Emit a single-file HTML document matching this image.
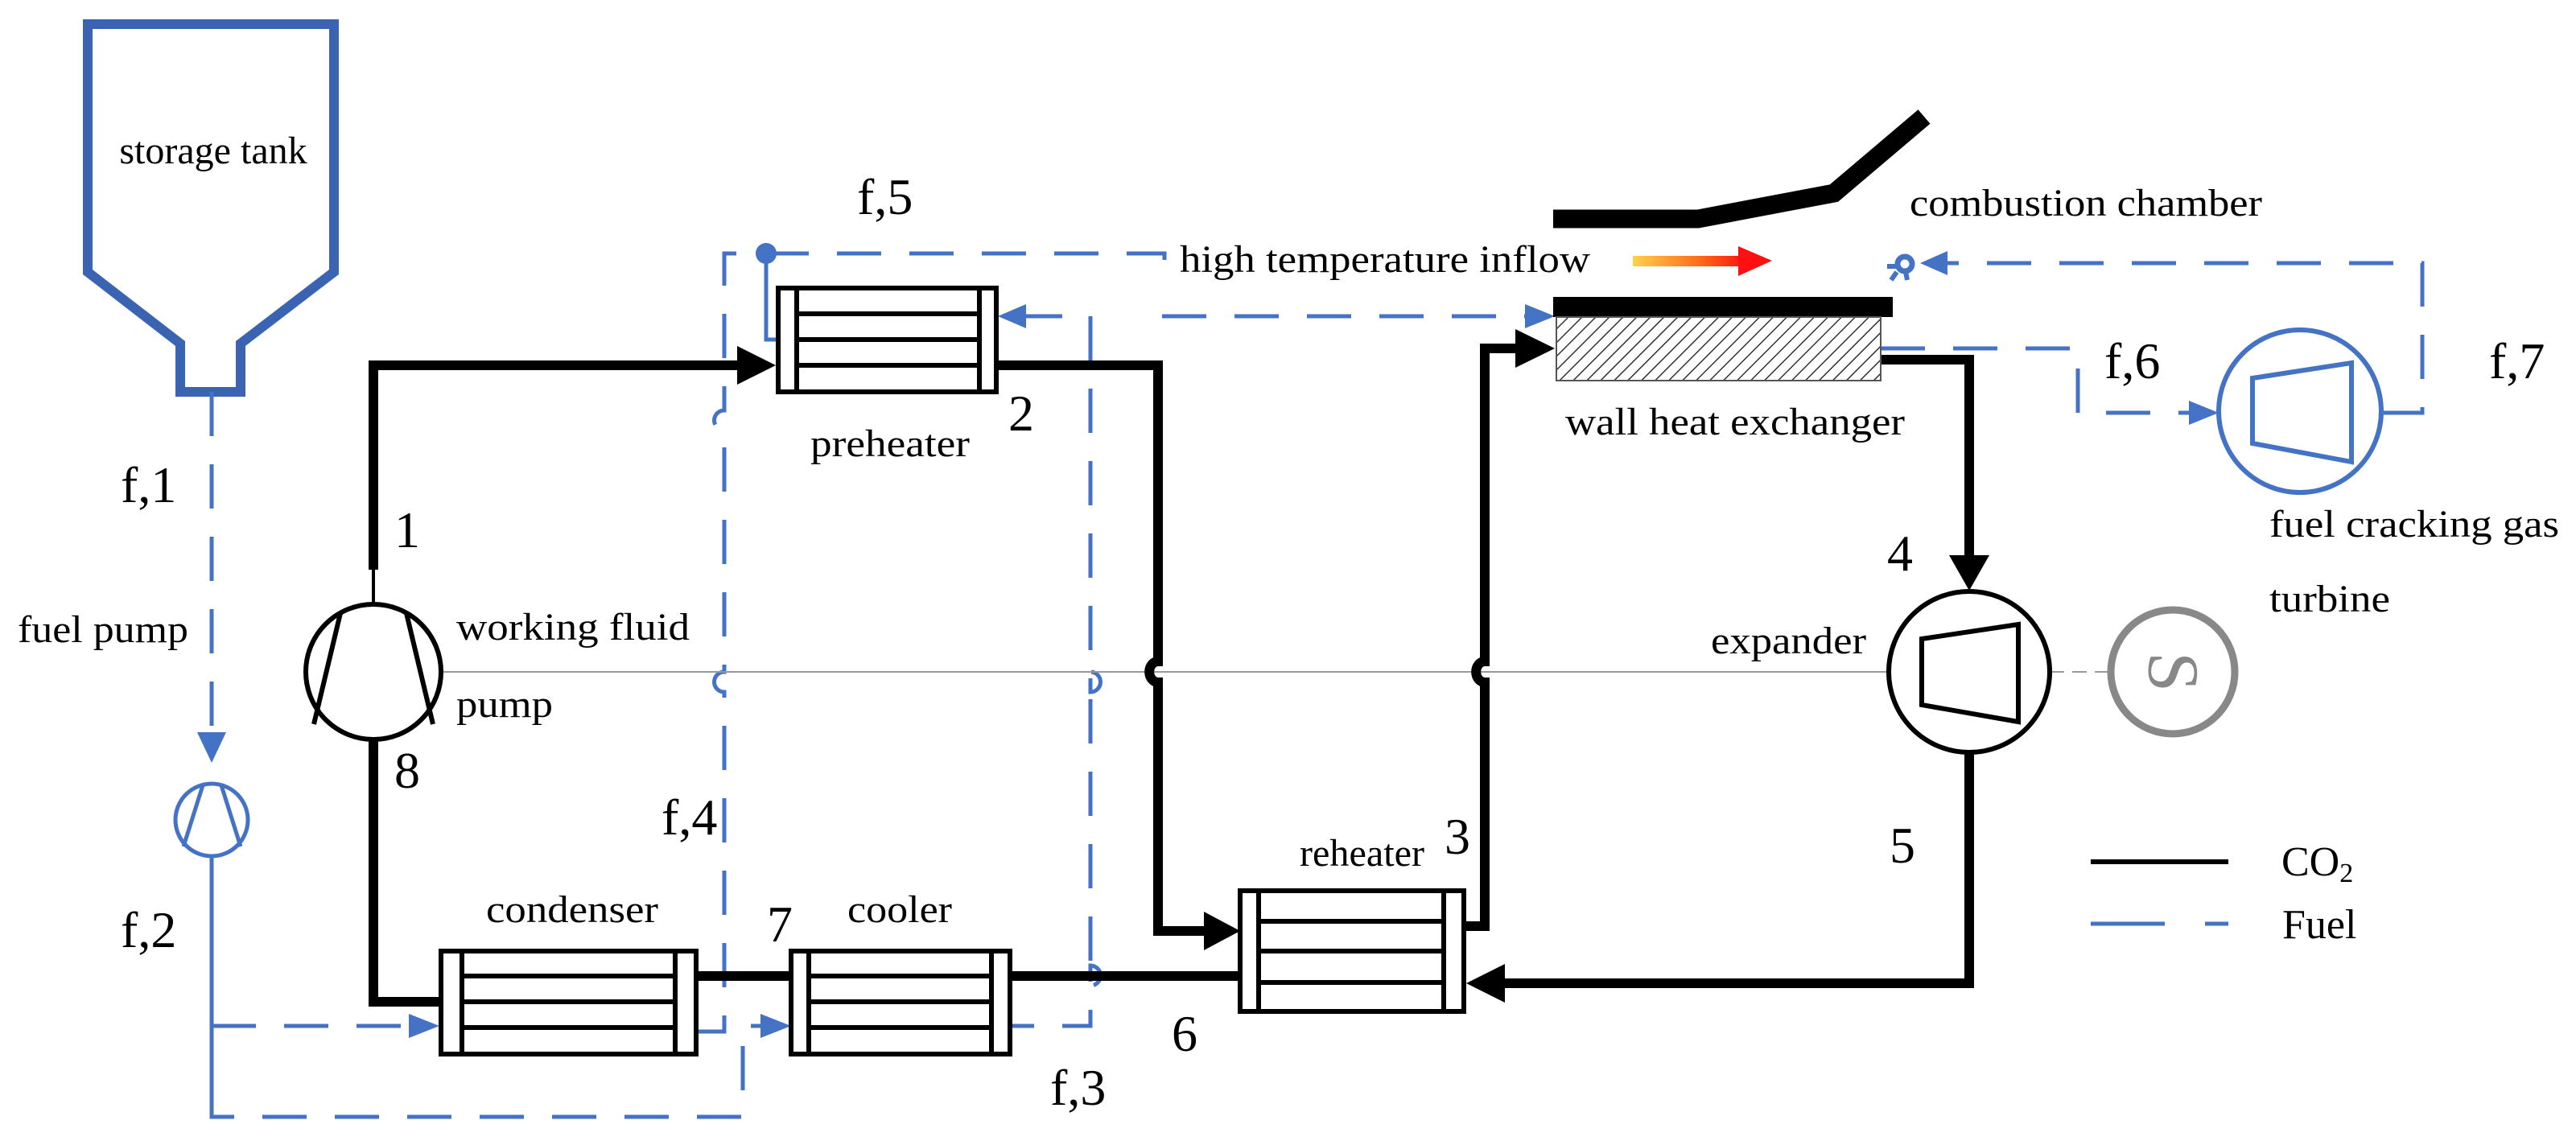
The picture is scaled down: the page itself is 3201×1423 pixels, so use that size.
<!DOCTYPE html>
<html><head><meta charset="utf-8"><style>
html,body{margin:0;padding:0;background:#fff;}
svg{display:block;}
text{font-family:"Liberation Serif","Times New Roman",serif;fill:#000;}
</style></head><body>
<svg width="3201" height="1423" viewBox="0 0 3201 1423" xmlns="http://www.w3.org/2000/svg">
<defs>
<pattern id="hatch" width="12" height="12" patternUnits="userSpaceOnUse" patternTransform="rotate(45)">
<rect width="12" height="12" fill="#fff"/><line x1="0" y1="0" x2="0" y2="12" stroke="#333" stroke-width="3"/>
</pattern>
<linearGradient id="grad" x1="0" x2="1" y1="0" y2="0">
<stop offset="0" stop-color="#ffd24a"/><stop offset="0.6" stop-color="#ff6a1a"/><stop offset="1" stop-color="#ff1010"/>
</linearGradient>
</defs>

<!-- storage tank -->
<path d="M109 30 H415 V338 L299 427 V487 H224 V427 L109 338 Z" fill="none" stroke="#3a64b2" stroke-width="12"/>
<text x="265" y="203" font-size="48" text-anchor="middle" font-family="Liberation Serif, serif">storage tank</text>

<g stroke="#4472C4" stroke-width="5" fill="none" stroke-dasharray="55 35">
<path d="M263 487 V910"/>
<path d="M263 1064 V1361" stroke-dasharray="none"/>
<path d="M263 1275 H520"/>
<path d="M263 1361 V1388 H923 V1275 H955"/>
<path d="M865 1282 H900 V860 a8 8 0 0 1 0 -25 V535 a8 8 0 0 1 0 -25 V315 H1447 V342"/>
<path d="M1444 393 H1905"/>
<path d="M952 315 V422 H967" stroke-dasharray="none"/>
<path d="M1265 393 H1355 V860 a8 8 0 0 0 0 -25 V1225 a8 8 0 0 0 0 -25 V1275 H1255" />
<path d="M2337 433 H2582 V513 H2725"/>
<path d="M2962 513 H3010 V327 H2420"/>
</g>
<circle cx="952" cy="315" r="13" fill="#4472C4"/>
<g fill="#4472C4">
<polygon points="245,910 281,910 263,948"/>
<polygon points="508,1260 508,1290 546,1275"/>
<polygon points="945,1260 945,1290 983,1275"/>
<polygon points="1275,378 1275,408 1240,393"/>
<polygon points="1895,378 1895,408 1932,393"/>
<polygon points="2720,498 2720,528 2757,513"/>
<polygon points="2420,312 2420,342 2386,327"/>
</g>
<circle cx="2367" cy="328" r="9" fill="none" stroke="#4472C4" stroke-width="7"/>
<g stroke="#4472C4" stroke-width="6"><line x1="2345" y1="331" x2="2356" y2="331"/><line x1="2357" y1="338" x2="2350" y2="348"/><line x1="2368" y1="338" x2="2370" y2="348"/></g>

<circle cx="263" cy="1019" r="45" fill="none" stroke="#4472C4" stroke-width="5"/>
<path d="M252 976 L228 1052 M275 976 L299 1052" stroke="#4472C4" stroke-width="5"/>

<line x1="548" y1="835" x2="2347" y2="835" stroke="#999" stroke-width="2"/>
<line x1="2547" y1="835" x2="2620" y2="835" stroke="#999" stroke-width="2" stroke-dasharray="18 10"/>

<g stroke="#000" stroke-width="12" fill="none" stroke-linejoin="miter">
<path d="M464 708 V454 H930"/>
<path d="M464 917 V1245 H548"/>
<path d="M865 1213 H983"/>
<path d="M1255 1213 H1541"/>
<path d="M1238 454 H1439 V822 a10 12 0 0 0 0 26 V1157 H1505"/>
<path d="M1819 1151 H1845 V848 a10 12 0 0 1 0 -26 V433 H1895"/>
<path d="M2337 447 H2447 V695"/>
<path d="M2447 935 V1222 H1860"/>
</g>
<line x1="464" y1="700" x2="464" y2="751" stroke="#000" stroke-width="4"/>
<g fill="#000">
<polygon points="916,430 916,478 964,454"/>
<polygon points="1496,1133 1496,1181 1541,1157"/>
<polygon points="1883,409 1883,457 1932,433"/>
<polygon points="2422,690 2472,690 2447,734"/>
<polygon points="1870,1198 1870,1246 1822,1222"/>
</g>

<circle cx="464" cy="835" r="84" fill="none" stroke="#000" stroke-width="6"/>
<path d="M423 762 L390 900 M505 762 L538 900" stroke="#000" stroke-width="6"/>

<g fill="#fff" stroke="#000" stroke-width="6">
<rect x="967" y="358" width="271" height="129"/>
<rect x="548" y="1182" width="317" height="128"/>
<rect x="983" y="1182" width="272" height="128"/>
<rect x="1541" y="1107" width="278" height="150"/>
</g>
<g stroke="#000" stroke-width="6">
<path d="M990 358 V487 M1217 358 V487 M990 390 H1217 M990 422 H1217 M990 454 H1217"/>
<path d="M574 1182 V1310 M839 1182 V1310 M574 1213 H839 M574 1245 H839 M574 1277 H839"/>
<path d="M1005 1182 V1310 M1232 1182 V1310 M1005 1213 H1232 M1005 1245 H1232 M1005 1277 H1232"/>
<path d="M1564 1107 V1257 M1794 1107 V1257 M1564 1145 H1794 M1564 1182 H1794 M1564 1221 H1794"/>
</g>

<path d="M1930 272 H2110 L2279 240 L2391 145" fill="none" stroke="#000" stroke-width="23"/>
<rect x="1930" y="369" width="422" height="25" fill="#000"/>
<rect x="1934" y="394" width="403" height="79" fill="url(#hatch)" stroke="#555" stroke-width="2"/>
<rect x="2029" y="318" width="140" height="13" fill="url(#grad)"/>
<polygon points="2160,306 2160,343 2202,324" fill="#ff1010"/>

<circle cx="2447" cy="835" r="100" fill="none" stroke="#000" stroke-width="6"/>
<polygon points="2388,794 2508,776 2508,897 2388,876" fill="none" stroke="#000" stroke-width="6"/>

<circle cx="2700" cy="835" r="77" fill="none" stroke="#888" stroke-width="9"/>
<text x="2700" y="835" font-size="90" font-family="Liberation Sans, sans-serif" text-anchor="middle" dominant-baseline="central" style="fill:#888" transform="rotate(90 2700 835)">S</text>

<circle cx="2858" cy="511" r="101" fill="none" stroke="#4472C4" stroke-width="6"/>
<polygon points="2799,470 2922,451 2922,574 2799,551" fill="none" stroke="#4472C4" stroke-width="6"/>

<line x1="2598" y1="1071" x2="2769" y2="1071" stroke="#000" stroke-width="6"/>
<line x1="2598" y1="1148" x2="2690" y2="1148" stroke="#4472C4" stroke-width="5"/>
<line x1="2740" y1="1148" x2="2769" y2="1148" stroke="#4472C4" stroke-width="5"/>
<text x="2835" y="1088" font-size="52" font-family="Liberation Serif, serif">CO<tspan font-size="34" dy="8">2</tspan></text>
<text x="2836" y="1166" font-size="52" font-family="Liberation Serif, serif">Fuel</text>

<g font-size="64" font-family="Liberation Serif, serif">
<text x="150" y="624">f,1</text>
<text x="150" y="1177">f,2</text>
<text x="1305" y="1373">f,3</text>
<text x="822" y="1037">f,4</text>
<text x="1065" y="266">f,5</text>
<text x="2615" y="470">f,6</text>
<text x="3093" y="470">f,7</text>
<text x="490" y="680">1</text>
<text x="1253" y="535">2</text>
<text x="1795" y="1061">3</text>
<text x="2345" y="709">4</text>
<text x="2348" y="1072">5</text>
<text x="1456" y="1306">6</text>
<text x="953" y="1170">7</text>
<text x="490" y="979">8</text>
</g>
<g font-size="48" font-family="Liberation Serif, serif" lengthAdjust="spacingAndGlyphs">
<text x="22" y="798" textLength="212" lengthAdjust="spacingAndGlyphs">fuel pump</text>
<text x="567" y="795" textLength="290" lengthAdjust="spacingAndGlyphs">working fluid</text>
<text x="567" y="891" textLength="120" lengthAdjust="spacingAndGlyphs">pump</text>
<text x="1007" y="567" textLength="198" lengthAdjust="spacingAndGlyphs">preheater</text>
<text x="604" y="1146" textLength="214" lengthAdjust="spacingAndGlyphs">condenser</text>
<text x="1053" y="1146" textLength="130" lengthAdjust="spacingAndGlyphs">cooler</text>
<text x="1615" y="1076" textLength="155" lengthAdjust="spacingAndGlyphs">reheater</text>
<text x="1466" y="338" textLength="510" lengthAdjust="spacingAndGlyphs">high temperature inflow</text>
<text x="2373" y="268" textLength="438" lengthAdjust="spacingAndGlyphs">combustion chamber</text>
<text x="1945" y="540" textLength="422" lengthAdjust="spacingAndGlyphs">wall heat exchanger</text>
<text x="2126" y="812" textLength="193" lengthAdjust="spacingAndGlyphs">expander</text>
<text x="2820" y="667" textLength="360" lengthAdjust="spacingAndGlyphs">fuel cracking gas</text>
<text x="2820" y="760" textLength="150" lengthAdjust="spacingAndGlyphs">turbine</text>
</g>
</svg>
</body></html>
